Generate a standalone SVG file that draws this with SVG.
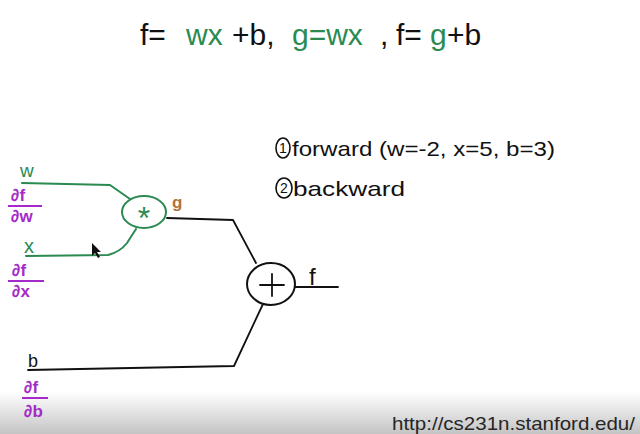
<svg xmlns="http://www.w3.org/2000/svg" width="640" height="434" viewBox="0 0 640 434">
<defs>
<linearGradient id="bg" x1="0" y1="0" x2="0" y2="1">
<stop offset="0" stop-color="#ffffff"/>
<stop offset="1" stop-color="#c4c4c4"/>
</linearGradient>
<style>
.t{font-family:"Liberation Sans","DejaVu Sans",sans-serif}
.blk{fill:#111}
.grn{fill:#2a8a52}
.pur{fill:#a52ac8}
.brn{fill:#b0743a}
.gl{stroke:#2a8a52;stroke-width:2;fill:none;stroke-linecap:round;stroke-linejoin:round}
.bl{stroke:#111;stroke-width:1.8;fill:none;stroke-linecap:round;stroke-linejoin:round}
.pl{stroke:#a52ac8;stroke-width:2;fill:none}
.frac{font-family:"Liberation Sans","DejaVu Sans",sans-serif;font-size:17px;fill:#a52ac8;font-weight:bold}
</style>
</defs>
<rect width="640" height="434" fill="#ffffff"/>
<rect x="0" y="392" width="640" height="42" fill="url(#bg)"/>

<text class="t" font-size="30" y="45"><tspan x="140" class="blk">f=</tspan><tspan x="186" class="grn">wx</tspan><tspan x="232" class="blk">+b,</tspan><tspan x="292" class="grn">g=wx</tspan><tspan x="380" class="blk">,</tspan><tspan x="396" class="blk">f=</tspan><tspan x="430" class="grn">g</tspan><tspan x="447" class="blk">+b</tspan></text>

<g id="notes">
<ellipse cx="283" cy="148" rx="7" ry="10" fill="none" stroke="#111" stroke-width="1.6"/>
<text class="t blk" font-size="14" x="283" y="153" text-anchor="middle">1</text>
<text class="t blk" font-size="21" x="292" y="156" textLength="263" lengthAdjust="spacingAndGlyphs">forward (w=-2, x=5, b=3)</text>
<ellipse cx="284" cy="188" rx="8" ry="10" fill="none" stroke="#111" stroke-width="1.6"/>
<text class="t blk" font-size="14" x="284" y="193" text-anchor="middle">2</text>
<text class="t blk" font-size="21" x="293" y="196" textLength="112" lengthAdjust="spacingAndGlyphs">backward</text>
</g>

<g id="connectors">
<polyline class="gl" points="22,183 110,185 130,199"/>
<path class="gl" d="M26,256 L108,255 Q120,252 127,243 L136,229"/>
<polyline class="bl" points="167,218 233,220 256,263"/>
<polyline class="bl" points="295,287 338,287"/>
<polyline class="bl" points="263,304 234,366 28,370"/>
</g>

<g id="input-w">
<text class="t grn" font-size="19" x="20" y="177">w</text>
<text class="frac" x="11" y="201">∂f</text>
<line class="pl" x1="8" y1="206" x2="42" y2="206"/>
<text class="frac" x="11" y="222">∂w</text>
</g>
<g id="input-x">
<text class="t grn" font-size="20" x="24" y="253">x</text>
<text class="frac" x="12" y="276">∂f</text>
<line class="pl" x1="8" y1="281" x2="44" y2="281"/>
<text class="frac" x="12" y="297">∂x</text>
</g>
<g id="input-b">
<text class="t blk" font-size="18" x="28" y="367">b</text>
<text class="frac" x="24" y="393">∂f</text>
<line class="pl" x1="22" y1="398" x2="48" y2="398"/>
<text class="frac" x="24" y="417">∂b</text>
</g>

<g id="mult">
<ellipse cx="144" cy="212" rx="22" ry="16" fill="none" stroke="#2a8a52" stroke-width="2"/>
<text class="t grn" font-size="32" x="144" y="229" text-anchor="middle">*</text>
<text class="t brn" font-size="17" font-weight="bold" x="172" y="208">g</text>
</g>

<g id="add">
<ellipse cx="271" cy="284" rx="24" ry="21" fill="none" stroke="#111" stroke-width="2"/>
<line class="bl" x1="260" y1="285" x2="284" y2="285"/>
<line class="bl" x1="272" y1="274" x2="272" y2="296"/>
<text class="t blk" font-size="24" x="309" y="285">f</text>
</g>

<polygon points="92,243 92,256 95,253 98,258 100,257 97,252 101,252" fill="#111"/>

<text class="t" font-size="19" fill="#262626" x="392" y="430" textLength="243" lengthAdjust="spacingAndGlyphs">http://cs231n.stanford.edu/</text>
</svg>
